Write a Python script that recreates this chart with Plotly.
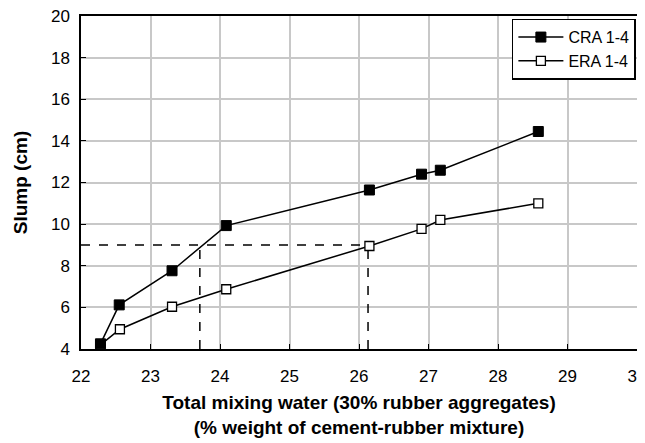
import plotly.graph_objects as go

# Data
cra_water = [22.28, 22.55, 23.31, 24.09, 26.15, 26.90, 27.17, 28.58]
cra_slump = [4.25, 6.12, 7.76, 9.93, 11.64, 12.40, 12.59, 14.45]
era_water = [22.28, 22.56, 23.31, 24.09, 26.15, 26.90, 27.17, 28.58]
era_slump = [4.20, 4.95, 6.03, 6.87, 8.95, 9.77, 10.20, 11.00]

target_slump = 9.0
target_water = [23.71, 26.13]  # CRA, ERA water for target slump

x_ticks = [22, 23, 24, 25, 26, 27, 28, 29, 30]
y_ticks = [4, 6, 8, 10, 12, 14, 16, 18, 20]

FONT = "Liberation Sans, Arial, sans-serif"

fig = go.Figure()

# Dashed reference lines
fig.add_trace(go.Scatter(
    x=[x_ticks[0], max(target_water)], y=[target_slump, target_slump],
    mode="lines", line=dict(color="black", width=1.5, dash="dash"),
    showlegend=False, hoverinfo="skip"))
for tw in target_water:
    fig.add_trace(go.Scatter(
        x=[tw, tw], y=[y_ticks[0], target_slump],
        mode="lines", line=dict(color="black", width=1.5, dash="dash"),
        showlegend=False, hoverinfo="skip"))

fig.add_trace(go.Scatter(
    x=era_water, y=era_slump, mode="lines+markers", name="ERA 1-4",
    line=dict(color="black", width=1.5),
    marker=dict(symbol="square", size=9, color="white",
                line=dict(color="black", width=1.3))))
fig.add_trace(go.Scatter(
    x=cra_water, y=cra_slump, mode="lines+markers", name="CRA 1-4",
    line=dict(color="black", width=1.5),
    marker=dict(symbol="square", size=10, color="black",
                line=dict(color="black", width=1))))

axis_common = dict(
    showgrid=True, gridcolor="#c8c8c8", gridwidth=1.5,
    showline=True, linecolor="black", linewidth=1.5, mirror=True,
    ticks="inside", ticklen=5, tickcolor="black",
    tickfont=dict(family=FONT, size=17, color="black"),
    zeroline=False, automargin=False, ticklabeloverflow="allow",
)

fig.update_layout(
    width=637, height=435,
    margin=dict(l=73, r=8, t=8, b=94),
    paper_bgcolor="white", plot_bgcolor="white",
    xaxis=dict(range=[22, 30], tickvals=x_ticks, ticklabelstandoff=11,
               title=dict(text="<b>Total mixing water (30% rubber aggregates)<br>(% weight of cement-rubber mixture)</b>",
                          font=dict(family=FONT, size=19, color="black"), standoff=11),
               **axis_common),
    yaxis=dict(range=[4, 20], tickvals=y_ticks, ticklabelstandoff=6,
               title=dict(text="<b>Slump (cm)</b>",
                          font=dict(family=FONT, size=19, color="black"), standoff=18),
               **axis_common),
    legend=dict(x=0.998, y=0.992, xanchor="right", yanchor="top",
                bgcolor="white", bordercolor="black", borderwidth=1.5,
                font=dict(family=FONT, size=16, color="black"),
                traceorder="reversed", itemwidth=45),
    showlegend=True,
)

fig.write_html("out.html")
